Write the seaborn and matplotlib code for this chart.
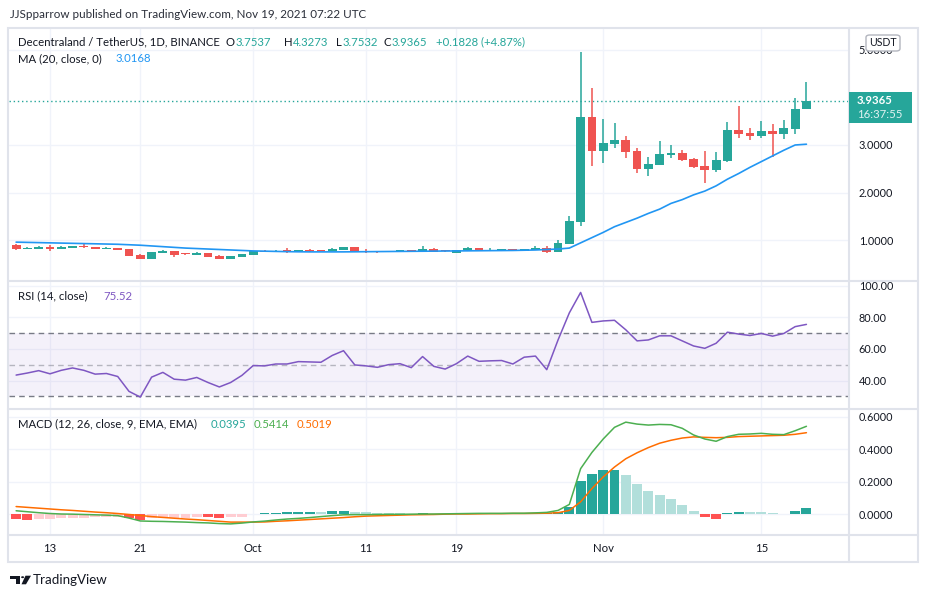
import pandas as pd
import matplotlib
matplotlib.use("Agg")
import matplotlib.pyplot as plt
import seaborn as sns
from matplotlib.patches import Rectangle, FancyBboxPatch, Polygon, Circle
from matplotlib.lines import Line2D

# daily candles, MANA/USDT, Binance
dates = pd.date_range("2021-09-10", "2021-11-19", freq="D")

opens = [0.888, 0.818, 0.818, 0.860, 0.818, 0.832, 0.881, 0.853, 0.818, 0.832,
         0.811, 0.684, 0.607, 0.733, 0.768, 0.720, 0.691, 0.726, 0.663, 0.607,
         0.642, 0.691, 0.768, 0.747, 0.782, 0.747, 0.789, 0.789, 0.768, 0.797,
         0.853, 0.775, 0.768, 0.747, 0.747, 0.789, 0.754, 0.811, 0.789, 0.733,
         0.782, 0.832, 0.768, 0.768, 0.811, 0.768, 0.789, 0.832, 0.754, 0.923,
         1.38, 3.59, 2.87, 3.02, 3.10, 2.87, 2.49, 2.58, 2.79, 2.83,
         2.70, 2.55, 2.47, 2.66, 3.31, 3.25, 3.19, 3.29, 3.23, 3.33, 3.7537]
highs = [0.923, 0.850, 0.874, 0.888, 0.880, 0.880, 0.909, 0.860, 0.860, 0.840,
         0.815, 0.712, 0.752, 0.790, 0.772, 0.733, 0.750, 0.730, 0.675, 0.665,
         0.710, 0.772, 0.782, 0.782, 0.832, 0.792, 0.811, 0.795, 0.839, 0.858,
         0.856, 0.818, 0.772, 0.772, 0.792, 0.792, 0.880, 0.832, 0.800, 0.795,
         0.860, 0.835, 0.832, 0.815, 0.815, 0.815, 0.874, 0.874, 1.000, 1.510,
         4.96, 4.20, 3.55, 3.46, 3.19, 2.94, 2.75, 3.08, 3.00, 2.89,
         2.72, 2.87, 2.85, 3.48, 3.82, 3.35, 3.50, 3.44, 3.52, 3.99, 4.3273]
lows = [0.783, 0.810, 0.812, 0.776, 0.810, 0.825, 0.840, 0.810, 0.810, 0.785,
        0.660, 0.600, 0.600, 0.720, 0.649, 0.684, 0.684, 0.640, 0.600, 0.600,
        0.640, 0.688, 0.745, 0.744, 0.733, 0.744, 0.740, 0.765, 0.765, 0.795,
        0.750, 0.726, 0.726, 0.744, 0.744, 0.750, 0.750, 0.750, 0.755, 0.730,
        0.780, 0.780, 0.765, 0.765, 0.765, 0.765, 0.786, 0.733, 0.750, 0.910,
        1.30, 2.56, 2.62, 2.94, 2.73, 2.41, 2.35, 2.57, 2.73, 2.66,
        2.51, 2.19, 2.43, 2.64, 3.14, 3.10, 3.15, 2.75, 3.12, 3.23, 3.7532]
closes = [0.818, 0.839, 0.860, 0.818, 0.860, 0.874, 0.846, 0.818, 0.839, 0.790,
          0.663, 0.607, 0.747, 0.775, 0.691, 0.698, 0.733, 0.642, 0.607, 0.663,
          0.705, 0.768, 0.747, 0.775, 0.754, 0.789, 0.761, 0.768, 0.811, 0.853,
          0.754, 0.754, 0.747, 0.768, 0.789, 0.754, 0.811, 0.754, 0.761, 0.789,
          0.832, 0.782, 0.796, 0.811, 0.768, 0.811, 0.832, 0.747, 0.937, 1.40,
          3.59, 2.87, 3.04, 3.10, 2.85, 2.49, 2.60, 2.81, 2.83, 2.68,
          2.53, 2.47, 2.68, 3.31, 3.23, 3.19, 3.29, 3.23, 3.35, 3.76, 3.9365]
ma20 = [0.955, 0.950, 0.945, 0.940, 0.935, 0.930, 0.925, 0.920, 0.915, 0.910,
        0.900, 0.890, 0.875, 0.860, 0.845, 0.830, 0.820, 0.810, 0.800, 0.790,
        0.780, 0.770, 0.765, 0.760, 0.755, 0.752, 0.750, 0.750, 0.750, 0.750,
        0.752, 0.754, 0.756, 0.758, 0.760, 0.762, 0.764, 0.766, 0.768, 0.770,
        0.772, 0.774, 0.776, 0.778, 0.780, 0.785, 0.790, 0.800, 0.810, 0.830,
        0.94, 1.05, 1.16, 1.28, 1.37, 1.46, 1.56, 1.65, 1.77, 1.85,
        1.95, 2.03, 2.14, 2.28, 2.40, 2.53, 2.65, 2.77, 2.89, 3.00, 3.0168]
rsi = [43.5, 44.8, 46.3, 44.3, 46.5, 48.0, 46.5, 44.1, 44.5, 42.6,
       33.2, 29.6, 42.2, 45.2, 40.9, 40.3, 42.0, 38.8, 36.0, 38.8,
       43.3, 49.5, 49.3, 50.5, 50.5, 52.0, 51.8, 51.6, 55.9, 58.9,
       49.9, 49.3, 48.4, 50.1, 50.7, 48.2, 55.2, 49.0, 47.3, 50.7,
       55.5, 52.2, 52.5, 52.7, 50.5, 54.8, 55.5, 46.9, 65.7, 82.8,
       95.7, 76.8, 77.7, 78.1, 72.1, 65.1, 65.7, 68.3, 68.3, 65.1,
       61.9, 60.4, 63.6, 70.6, 69.4, 68.5, 69.8, 68.1, 69.8, 74.1, 75.52]
macd = [0.020, 0.014, 0.008, 0.003, 0.000, -0.001, -0.003, -0.005, -0.007, -0.010,
        -0.025, -0.043, -0.045, -0.046, -0.048, -0.050, -0.053, -0.055, -0.059, -0.061,
        -0.056, -0.049, -0.044, -0.037, -0.031, -0.027, -0.022, -0.016, -0.010, -0.005,
        -0.004, -0.004, -0.003, -0.002, -0.002, -0.001, 0.000, 0.000, 0.001, 0.002,
        0.003, 0.004, 0.004, 0.004, 0.005, 0.005, 0.007, 0.010, 0.022, 0.059,
        0.280, 0.380, 0.463, 0.535, 0.567, 0.555, 0.549, 0.553, 0.551, 0.529,
        0.488, 0.463, 0.449, 0.478, 0.492, 0.494, 0.498, 0.492, 0.490, 0.514, 0.5414]
signal = [0.046, 0.041, 0.036, 0.031, 0.026, 0.022, 0.017, 0.012, 0.008, 0.003,
          -0.003, -0.009, -0.016, -0.021, -0.026, -0.031, -0.035, -0.040, -0.045, -0.050,
          -0.050, -0.050, -0.049, -0.045, -0.042, -0.038, -0.034, -0.030, -0.026, -0.022,
          -0.017, -0.013, -0.011, -0.009, -0.007, -0.005, -0.004, -0.003, -0.001, 0.000,
          0.000, 0.001, 0.002, 0.002, 0.003, 0.003, 0.004, 0.005, 0.008, 0.022,
          0.075, 0.157, 0.229, 0.290, 0.341, 0.378, 0.410, 0.437, 0.455, 0.469,
          0.476, 0.473, 0.471, 0.473, 0.478, 0.480, 0.482, 0.484, 0.486, 0.492, 0.5019]
hist = [-0.031, -0.037, -0.029, -0.029, -0.027, -0.025, -0.023, -0.021, -0.019, -0.016,
        -0.027, -0.037, -0.027, -0.025, -0.025, -0.023, -0.019, -0.021, -0.023, -0.019,
        -0.016, 0.002, 0.008, 0.009, 0.012, 0.013, 0.014, 0.012, 0.019, 0.020,
        0.012, 0.011, 0.006, 0.005, 0.004, 0.002, 0.006, 0.003, 0.002, 0.0015,
        0.003, 0.0025, 0.002, 0.0018, 0.0016, 0.0014, 0.003, 0.006, 0.012, 0.045,
        0.205, 0.245, 0.270, 0.272, 0.240, 0.184, 0.141, 0.116, 0.092, 0.055,
        0.018, -0.018, -0.030, 0.008, 0.012, 0.011, 0.010, 0.006, 0.002, 0.018, 0.0395]

tick_dates = ["2021-09-13", "2021-09-21", "2021-10-01", "2021-10-11", "2021-10-19", "2021-11-01", "2021-11-15"]
tick_labels = ["13", "21", "Oct", "11", "19", "Nov", "15"]

W, H = 927, 598
TEXT = "#131722"
GRID = "#f0f3fa"
BORDER = "#e0e3eb"
UP, DOWN = "#26a69a", "#ef5350"


def fx(x):
    return x / W


def fy(y):
    return 1 - y / H


def box(x0, y0, x1, y1):
    return [fx(x0), fy(y1), (x1 - x0) / W, (y1 - y0) / H]


def hline(y, x0, x1, lw=1.5):
    fig.add_artist(Line2D([fx(x0), fx(x1)], [fy(y), fy(y)], transform=fig.transFigure, color=BORDER, lw=lw))


def vline(x, y0, y1, lw=1.5):
    fig.add_artist(Line2D([fx(x), fx(x)], [fy(y0), fy(y1)], transform=fig.transFigure, color=BORDER, lw=lw))


def label(x, y, s, color=TEXT, size=8.2, **kw):
    return fig.text(fx(x), fy(y), s, color=color, fontsize=size, va="center", ha=kw.pop("ha", "left"), **kw)


def right_edge(t):
    # right end of a text, in picture pixels from the left
    return t.get_window_extent(renderer).x1


sns.set_theme(style="white")
plt.rcParams["font.family"] = ["Lato", "DejaVu Sans"]

fig = plt.figure(figsize=(9.27, 5.98), dpi=100)
fig.patch.set_facecolor("white")
renderer = fig.canvas.get_renderer()

ax_p = fig.add_axes(box(9, 29, 849, 280))
ax_r = fig.add_axes(box(9, 282, 849, 408), sharex=ax_p)
ax_m = fig.add_axes(box(9, 410, 849, 535), sharex=ax_p)

x = list(range(len(dates)))
tick_pos = [dates.get_loc(pd.Timestamp(d)) for d in tick_dates]

# candles
body_col = [UP if c >= o else DOWN for o, c in zip(opens, closes)]
body_low = [min(o, c) for o, c in zip(opens, closes)]
body_h = [max(abs(c - o), 0.02) for o, c in zip(opens, closes)]
ax_p.vlines(x, lows, highs, colors=body_col, lw=1.1, zorder=2)
ax_p.bar(x, body_h, bottom=body_low, width=0.78, color=body_col, lw=0, zorder=3)
sns.lineplot(x=x, y=ma20, ax=ax_p, color="#2196f3", lw=1.2, zorder=4)
ax_p.axhline(closes[-1], color=UP, ls=(0, (1, 2)), lw=1, zorder=1)
ax_p.set_ylim(0.158, 5.442)
ax_p.set_yticks([1, 2, 3, 5])
ax_p.yaxis.set_major_formatter(plt.FormatStrFormatter("%.4f"))

# RSI
ax_r.axhspan(30, 70, color="#7e57c2", alpha=0.08, lw=0)
for lvl, a in [(70, 1.0), (50, 0.5), (30, 1.0)]:
    ax_r.axhline(lvl, color="#787b86", ls=(0, (4, 3)), lw=1, alpha=a)
sns.lineplot(x=x, y=rsi, ax=ax_r, color="#7e57c2", lw=1.1, zorder=4)
ax_r.set_ylim(22.7, 102.3)
ax_r.set_yticks([40, 60, 80, 100])
ax_r.yaxis.set_major_formatter(plt.FormatStrFormatter("%.2f"))

# MACD
hist_col = []
prev = None
for h in hist:
    if h >= 0:
        hist_col.append("#26a69a" if prev is None or h >= prev else "#b2dfdb")
    else:
        hist_col.append("#ff5252" if prev is None or h < prev else "#ffcdd2")
    prev = h
ax_m.bar(x, hist, width=0.88, color=hist_col, lw=0, zorder=2)
sns.lineplot(x=x, y=macd, ax=ax_m, color="#4caf50", lw=1.1, zorder=4)
sns.lineplot(x=x, y=signal, ax=ax_m, color="#ff6d00", lw=1.1, zorder=3)
ax_m.set_ylim(-0.1296, 0.642)
ax_m.set_yticks([0, 0.2, 0.4, 0.6])
ax_m.yaxis.set_major_formatter(plt.FormatStrFormatter("%.4f"))

for ax in (ax_p, ax_r, ax_m):
    ax.set_xlim(-0.63, 73.77)
    ax.set_xticks(tick_pos)
    ax.grid(True, color=GRID, lw=1)
    ax.set_axisbelow(True)
    for s in ax.spines.values():
        s.set_visible(False)
    ax.yaxis.tick_right()
    ax.tick_params(axis="y", length=0, pad=7, labelsize=7.8, labelcolor=TEXT)
    ax.tick_params(axis="x", length=0, labelbottom=False)
    ax.set_xlabel("")
    ax.set_ylabel("")
ax_m.set_xticklabels(tick_labels)
ax_m.tick_params(axis="x", labelbottom=True, pad=6, labelsize=8.2, labelcolor=TEXT)

# frame and pane separators
fig.add_artist(Rectangle((fx(8), fy(562)), 910 / W, 534 / H, transform=fig.transFigure,
                         fill=False, ec=BORDER, lw=1.5))
hline(281, 8, 918)
hline(409, 8, 918)
hline(535, 8, 918)
vline(849, 28, 562)

# header texts
label(10, 15, "JJSpparrow published on TradingView.com, Nov 19, 2021 07:22 UTC", color="#2a2e39", size=8.4)
label(18, 42, "Decentraland / TetherUS, 1D, BINANCE", size=8.2)
for xl, key, val in [(226, "O", "3.7537"), (284, "H", "4.3273"),
                     (336, "L", "3.7532"), (384, "C", "3.9365")]:
    t = label(xl, 42, key, size=8.2)
    label(right_edge(t) + 0.5, 42, val, color=UP, size=8.2)
label(436, 42, "+0.1828 (+4.87%)", color=UP, size=8.2)
label(18, 59, "MA (20, close, 0)", size=8.2)
label(116, 59, "3.0168", color="#2196f3", size=8.2)
label(18, 296, "RSI (14, close)", size=8.2)
label(103, 296, "75.52", color="#7e57c2", size=8.2)
label(18, 424, "MACD (12, 26, close, 9, EMA, EMA)", size=8.2)
label(211, 424, "0.0395", color="#26a69a", size=8.2)
label(254, 424, "0.5414", color="#4caf50", size=8.2)
label(297, 424, "0.5019", color="#ff6d00", size=8.2)

# price scale badges
fig.add_artist(FancyBboxPatch((fx(866), fy(51)), 34 / W, 16 / H, boxstyle="round,pad=0,rounding_size=0.004",
                              transform=fig.transFigure, fc="white", ec="#b2b5be", lw=1, zorder=5))
label(883, 43, "USDT", size=7.6, ha="center", zorder=6)
fig.add_artist(Rectangle((fx(849), fy(123)), 63 / W, 31 / H, transform=fig.transFigure,
                         fc=UP, ec="none", zorder=5))
label(857, 100, "3.9365", color="white", size=8.2, zorder=6, fontweight="bold")
label(857, 115, "16:37:55", color="#e0f2f1", size=8.2, zorder=6)

# TradingView logo
fig.add_artist(Polygon([(fx(10), fy(575.7)), (fx(20), fy(575.7)), (fx(20), fy(584.3)), (fx(15.5), fy(584.3)),
                        (fx(15.5), fy(578.6)), (fx(10), fy(578.6))], closed=True,
                       transform=fig.transFigure, fc=TEXT, ec="none"))
fig.add_artist(Circle((fx(22.6), fy(577.2)), 1.5 / W, transform=fig.transFigure, fc=TEXT, ec="none"))
fig.add_artist(Polygon([(fx(25.5), fy(575.7)), (fx(31), fy(575.7)), (fx(26), fy(584.3)), (fx(21.5), fy(584.3))],
                       closed=True, transform=fig.transFigure, fc=TEXT, ec="none"))
label(33, 580, "TradingView", size=9.6)

plt.savefig("out.png", dpi=100)
plt.close()
